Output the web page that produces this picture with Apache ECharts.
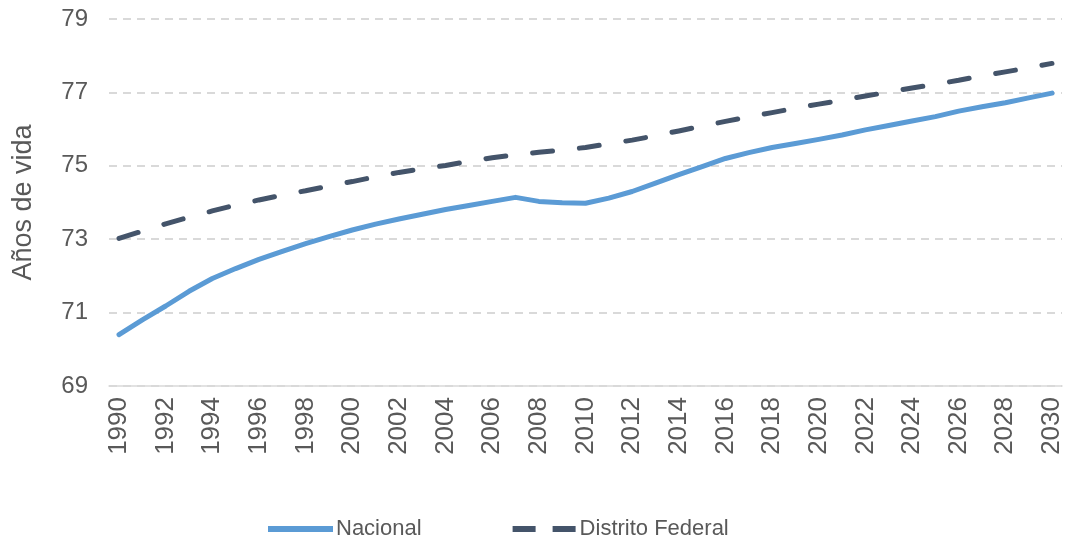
<!DOCTYPE html>
<html>
<head>
  <meta charset="utf8">
  <script src="https://cdn.jsdelivr.net/npm/echarts@6/dist/echarts.min.js"></script>
  <style>
    html, body { margin: 0; padding: 0; background: #fff; }
    #main { width: 1069px; height: 542px; }
  </style>
</head>
<body>
<div id="main"></div>
<script type="text/javascript">
  // años 1990 - 2030
  var years = [];
  for (var y = 1990; y <= 2030; y++) years.push(y);
  var yearLabels = [1990, 1992, 1994, 1996, 1998, 2000, 2002, 2004, 2006, 2008, 2010,
                    2012, 2014, 2016, 2018, 2020, 2022, 2024, 2026, 2028, 2030];

  var nacional = [70.40, 70.80, 71.18, 71.58, 71.93, 72.20, 72.45, 72.67, 72.88, 73.07,
                  73.25, 73.41, 73.55, 73.68, 73.81, 73.92, 74.03, 74.14, 74.03, 73.99,
                  73.98, 74.12, 74.30, 74.53, 74.76, 74.98, 75.20, 75.36, 75.50, 75.61,
                  75.72, 75.84, 75.98, 76.10, 76.22, 76.34, 76.49, 76.61, 76.72, 76.85,
                  76.98];
  var distritoFederal = [73.02, 73.22, 73.42, 73.60, 73.77, 73.93, 74.07, 74.20, 74.32, 74.45,
                         74.57, 74.70, 74.82, 74.92, 75.01, 75.12, 75.22, 75.30, 75.37, 75.43,
                         75.50, 75.60, 75.70, 75.82, 75.95, 76.08, 76.21, 76.33, 76.45, 76.57,
                         76.68, 76.79, 76.90, 77.01, 77.12, 77.22, 77.33, 77.45, 77.56, 77.67,
                         77.79];

  function pairs(vals) {
      return years.map(function (yr, i) { return [yr, vals[i]]; });
  }

  var txt = '#595959';
  var chart = echarts.init(document.getElementById('main'));
  chart.setOption({
      animation: false,
      textStyle: { fontFamily: 'Liberation Sans' },
      grid: { left: 109, right: 7, top: 19, bottom: 156 },
      legend: {
          top: 518,
          left: 268,
          padding: 0,
          itemWidth: 65,
          itemHeight: 6,
          itemGap: 91,
          textStyle: { color: txt, fontSize: 22, padding: [0, 0, 0, -2] },
          data: [
              { name: 'Nacional', icon: 'path://M0,0H65V6H0Z' },
              { name: 'Distrito Federal', icon: 'path://M0,0H23V6H0Z M40,0H63V6H40Z' }
          ]
      },
      xAxis: {
          type: 'value',
          min: 1989.57,
          max: 2030.43,
          splitLine: { show: false },
          axisTick: { show: false },
          axisLine: { show: true, onZero: false, lineStyle: { color: '#d9d9d9', width: 1.5 } },
          axisLabel: {
              customValues: yearLabels,
              rotate: 90,
              color: txt,
              fontSize: 26,
              margin: 11,
              formatter: function (v) { return String(v); }
          }
      },
      yAxis: {
          type: 'value',
          min: 69,
          max: 79,
          interval: 2,
          name: 'Años de vida',
          nameLocation: 'middle',
          nameGap: 72,
          nameTextStyle: { color: txt, fontSize: 27 },
          axisLine: { show: false },
          axisTick: { show: false },
          axisLabel: { color: txt, fontSize: 24, margin: 21 },
          splitLine: { lineStyle: { color: '#d9d9d9', width: 2, type: [8, 6] } }
      },
      series: [
          {
              name: 'Nacional',
              type: 'line',
              data: pairs(nacional),
              showSymbol: false,
              symbol: 'none',
              color: '#5b9bd5',
              lineStyle: { width: 5, color: '#5b9bd5', cap: 'round', join: 'round' }
          },
          {
              name: 'Distrito Federal',
              type: 'line',
              data: pairs(distritoFederal),
              showSymbol: false,
              symbol: 'none',
              color: '#44546a',
              lineStyle: { width: 5, color: '#44546a', type: [20, 27], cap: 'round' }
          }
      ]
  });
</script>
</body>
</html>
